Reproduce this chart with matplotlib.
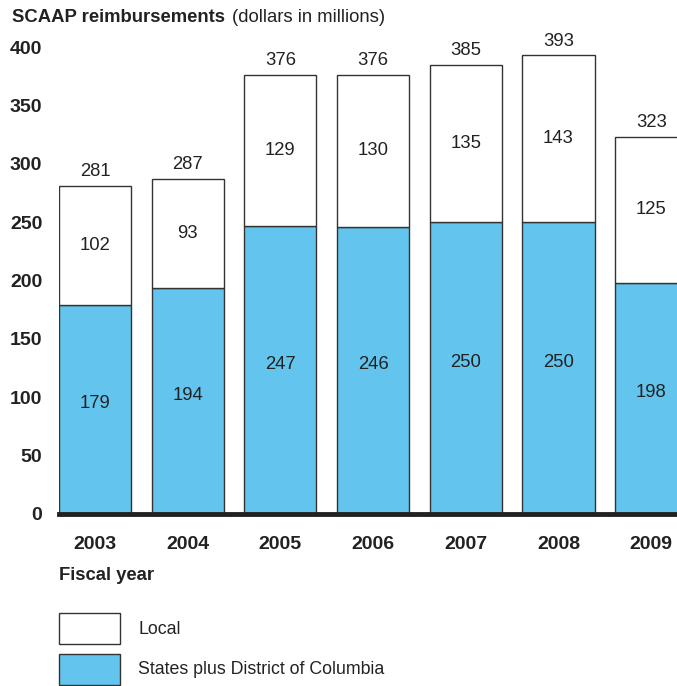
import matplotlib
matplotlib.use("Agg")
import matplotlib.pyplot as plt
from matplotlib.patches import Rectangle

years = ["2003", "2004", "2005", "2006", "2007", "2008", "2009"]
states = [179, 194, 247, 246, 250, 250, 198]
local = [102, 93, 129, 130, 135, 143, 125]
totals = [281, 287, 376, 376, 385, 393, 323]
yticks = [0, 50, 100, 150, 200, 250, 300, 350, 400]

BLUE = "#63C5EE"
EDGE = "#333333"
TXT = "#222222"
plt.rcParams["font.family"] = ["Liberation Sans", "DejaVu Sans"]

W, H = 677, 686
fig = plt.figure(figsize=(W / 100, H / 100), dpi=100)
ax = fig.add_axes([59 / W, 1 - 514 / H, 1 - 59 / W, (514 - 47) / H])

x = list(range(len(years)))
width = 0.777
ax.bar(x, states, width, color=BLUE, edgecolor=EDGE, linewidth=1.0)
ax.bar(x, local, width, bottom=states, color="white", edgecolor=EDGE, linewidth=1.0)

for i in x:
    ax.annotate(str(states[i]), (i, states[i] / 2), xytext=(0, 4), textcoords="offset points",
                ha="center", va="center", fontsize=13.3, color=TXT)
    ax.text(i, states[i] + local[i] / 2, str(local[i]), ha="center", va="center", fontsize=13.3, color=TXT)
    ax.annotate(str(totals[i]), (i, totals[i]), xytext=(0, 4), textcoords="offset points",
                ha="center", va="bottom", fontsize=13.3, color=TXT, annotation_clip=False)

ax.set_xlim(-width / 2, (677 - 95) / 92.7)
ax.set_ylim(0, 400)
ax.set_yticks(yticks)
ax.set_yticklabels([str(v) for v in yticks], fontweight="bold", fontsize=14, color=TXT)
ax.set_xticks(x)
ax.set_xticklabels(years, fontweight="bold", fontsize=14, color=TXT)
ax.tick_params(axis="y", length=0, pad=12)
ax.tick_params(axis="x", length=0, pad=16)
for s in ["top", "right", "left"]:
    ax.spines[s].set_visible(False)
ax.spines["bottom"].set_linewidth(3.5)
ax.spines["bottom"].set_color(TXT)

fig.text(12 / W, 1 - 17 / H, "SCAAP reimbursements", fontweight="bold", fontsize=13.3,
         va="center", ha="left", color=TXT)
fig.text(232 / W, 1 - 17 / H, "(dollars in millions)", fontsize=13.3, va="center", ha="left", color=TXT)
fig.text(59 / W, 1 - 576 / H, "Fiscal year", fontweight="bold", fontsize=13.3, va="center", ha="left",
         color=TXT)

for y0, fc, label in [(613, "white", "Local"), (654, BLUE, "States plus District of Columbia")]:
    fig.patches.append(Rectangle((59 / W, 1 - (y0 + 31) / H), 61 / W, 31 / H, transform=fig.transFigure,
                                 facecolor=fc, edgecolor=EDGE, linewidth=1.0))
    fig.text(138 / W, 1 - (y0 + 16) / H, label, fontsize=12.8, va="center", ha="left", color=TXT)

fig.savefig("out.png", dpi=100)
